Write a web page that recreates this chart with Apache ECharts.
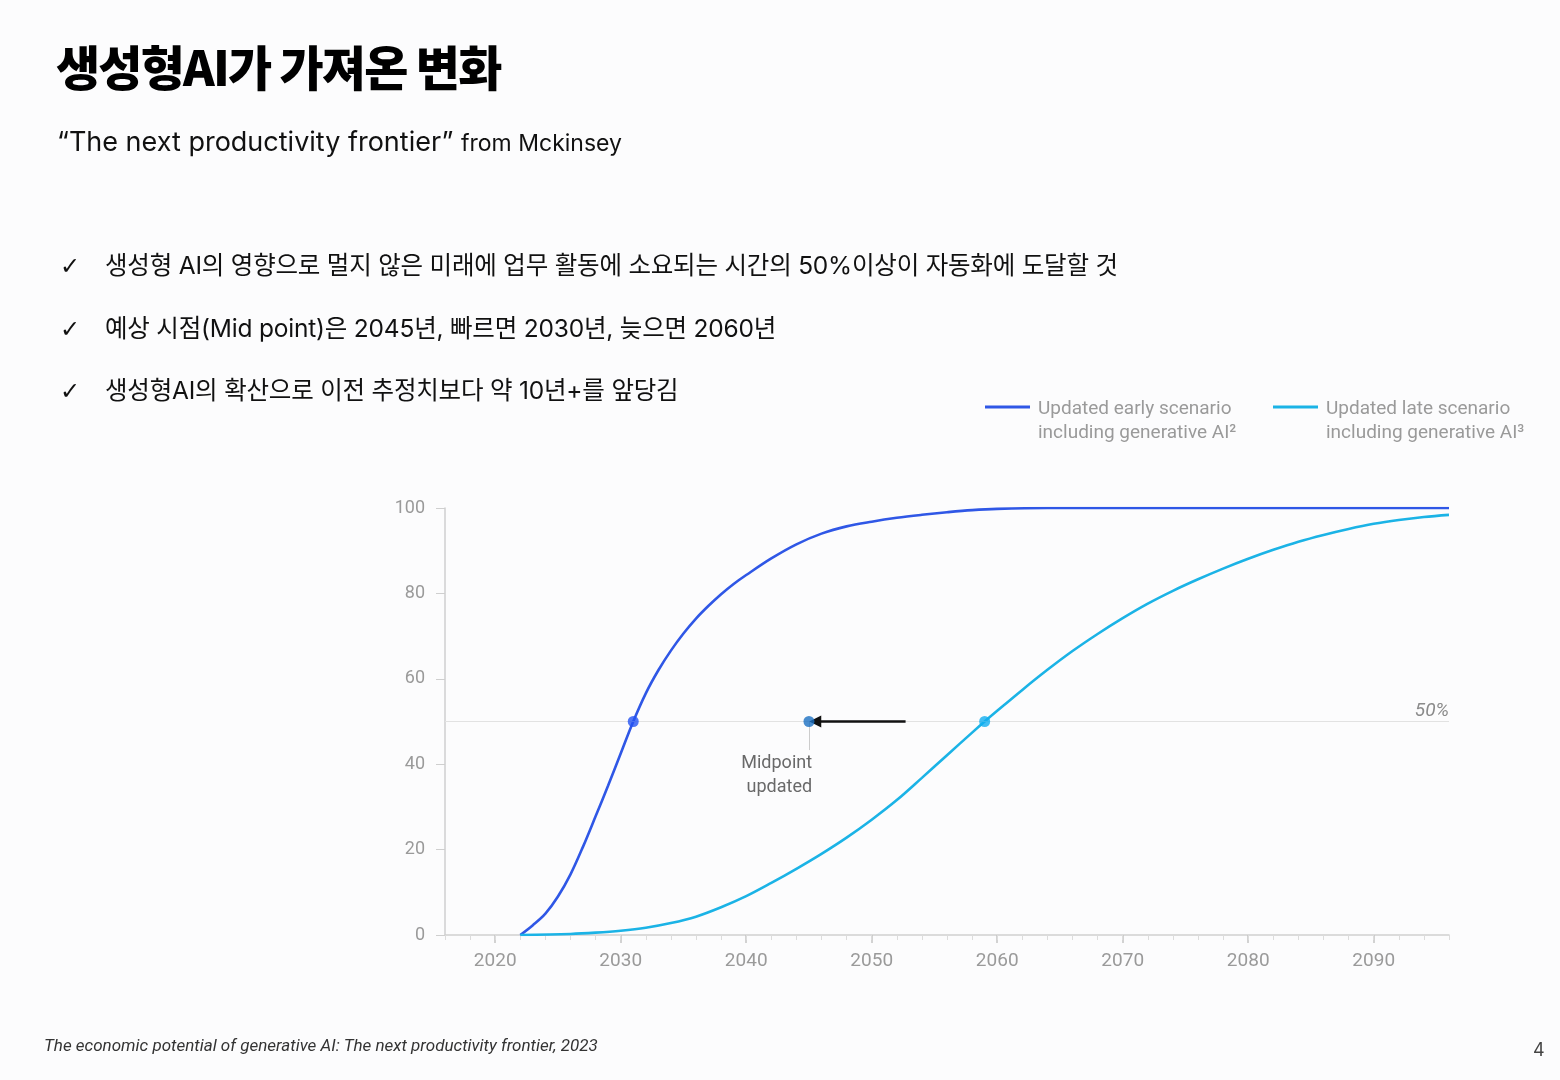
<!DOCTYPE html>
<html>
<head>
<meta charset="utf-8">
<script src="https://cdn.jsdelivr.net/npm/echarts@6/dist/echarts.min.js"></script>
<style>
  html, body { margin: 0; padding: 0; background: #fcfcfd; }
  #page { position: relative; width: 1560px; height: 1080px; overflow: hidden; }
  #chart { position: absolute; left: 0; top: 0; width: 1560px; height: 1080px; }
  .txt { position: absolute; white-space: nowrap; color: #111; font-family: "Inter", "Noto Sans CJK KR", sans-serif; }
  #title { left: 56px; top: 32px; font-family: "Noto Sans CJK KR", sans-serif; font-weight: 900; font-size: 48px; letter-spacing: -1.8px; color: #000; line-height: 66px; }
  #sub { left: 57px; top: 122px; font-size: 27px; line-height: 40px; }
  #sub small { font-size: 23px; }
  .bullet { left: 60px; font-size: 24.5px; line-height: 34px; letter-spacing: -0.2px; }
  .bullet span.ck { display: inline-block; width: 45px; font-family: "DejaVu Sans", sans-serif; font-size: 24px; }
  #foot { left: 44px; top: 1034px; font-family: "Roboto", sans-serif; font-size: 17px; font-style: italic; color: #333; line-height: 22px; }
  #pno { left: 1533px; top: 1039px; font-size: 18px; color: #444; line-height: 22px; }
</style>
</head>
<body>
<div id="page">
  <div id="chart"></div>
  <div class="txt" id="title">생성형AI가 가져온 변화</div>
  <div class="txt" id="sub">“The next productivity frontier” <small>from Mckinsey</small></div>
  <div class="txt bullet" style="top:248px"><span class="ck">✓</span>생성형 AI의 영향으로 멀지 않은 미래에 업무 활동에 소요되는 시간의 50%이상이 자동화에 도달할 것</div>
  <div class="txt bullet" style="top:311px"><span class="ck">✓</span>예상 시점(Mid point)은 2045년, 빠르면 2030년, 늦으면 2060년</div>
  <div class="txt bullet" style="top:373px"><span class="ck">✓</span>생성형AI의 확산으로 이전 추정치보다 약 10년+를 앞당김</div>
  <div class="txt" id="foot">The economic potential of generative AI: The next productivity frontier, 2023</div>
  <div class="txt" id="pno">4</div>
</div>
<script>
// early scenario (share of work time automated, %)
const earlyYears  = [2022, 2023, 2024, 2025, 2026, 2027, 2028, 2029, 2030, 2031, 2032, 2033, 2034, 2035, 2036, 2037, 2038, 2039, 2040, 2042, 2044, 2046, 2048, 2050, 2052, 2054, 2056, 2058, 2060, 2064, 2096];
const earlyValues = [0, 2.3, 5.0, 9.0, 14.2, 20.7, 27.8, 35.0, 42.5, 50, 56.6, 62.0, 66.6, 70.6, 74.1, 77.1, 79.8, 82.2, 84.3, 88.2, 91.5, 94.0, 95.7, 96.8, 97.7, 98.4, 99.0, 99.5, 99.8, 100, 100];

// late scenario
const lateYears  = [2022, 2026, 2028, 2030, 2032, 2034, 2036, 2038, 2040, 2042, 2044, 2046, 2048, 2050, 2052, 2054, 2056, 2058, 2059, 2060, 2062, 2064, 2066, 2068, 2070, 2072, 2074, 2076, 2078, 2080, 2082, 2084, 2086, 2088, 2090, 2092, 2094, 2096];
const lateValues = [0, 0.25, 0.55, 1.0, 1.7, 2.8, 4.3, 6.5, 9.1, 12.2, 15.5, 19.0, 22.8, 27.0, 31.6, 36.8, 42.1, 47.4, 50, 52.5, 57.4, 62.1, 66.5, 70.5, 74.2, 77.6, 80.6, 83.3, 85.8, 88.1, 90.2, 92.1, 93.7, 95.1, 96.3, 97.2, 97.9, 98.4];

// midpoints: early, updated, late
const midYears  = [2031, 2045, 2059];
const midColors = ['#2452f2', '#1a6fc2', '#12aef0'];
const midLevel  = 50;
const arrowFrom = 2052.7;
const arrowTo   = 2045.5;

const xLabels = [2020, 2030, 2040, 2050, 2060, 2070, 2080, 2090];
const yTicks  = [0, 20, 40, 60, 80, 100];

const legendNames = ['Updated early scenario\nincluding generative AI²', 'Updated late scenario\nincluding generative AI³'];
const lineColors  = ['#2f57e6', '#1bb3e6'];

const zip = (a, b) => a.map((v, i) => [v, b[i]]);

const chart = echarts.init(document.getElementById('chart'));
const grey = '#9a9a9a';
const axisFont = '"Roboto", "Liberation Sans", sans-serif';

chart.setOption({
  animation: false,
  backgroundColor: 'transparent',
  textStyle: { fontFamily: axisFont },
  grid: { left: 445, top: 508, width: 1004, height: 427, containLabel: false },
  xAxis: [
    {
      type: 'value', min: 2016, max: 2096, position: 'bottom',
      splitLine: { show: false },
      axisLine: { show: true, lineStyle: { color: '#cfcfcf', width: 1.5 } },
      axisTick: { show: true, length: 8, customValues: xLabels, lineStyle: { color: '#c4c4c4', width: 1.5 } },
      axisLabel: { customValues: xLabels, formatter: v => String(v), color: grey, fontSize: 19, margin: 17 }
    },
    {
      type: 'value', min: 2016, max: 2096, interval: 2, position: 'bottom',
      splitLine: { show: false },
      axisLine: { show: false },
      axisTick: { show: true, length: 5, lineStyle: { color: '#dcdcdc', width: 1 } },
      axisLabel: { show: false }
    }
  ],
  yAxis: {
    type: 'value', min: 0, max: 100, interval: 20,
    splitLine: { show: false },
    axisLine: { show: true, lineStyle: { color: '#cfcfcf', width: 1.5 } },
    axisTick: { show: true, length: 9, lineStyle: { color: '#cfcfcf', width: 1 } },
    axisLabel: { customValues: yTicks, color: grey, fontSize: 18, margin: 20 }
  },
  graphic: [
    { type: 'line', shape: { x1: 985, y1: 407, x2: 1030, y2: 407 }, style: { stroke: lineColors[0], lineWidth: 3 } },
    { type: 'text', left: 1038, top: 397, style: { text: legendNames[0], fill: grey, font: '19px ' + axisFont, lineHeight: 24 } },
    { type: 'line', shape: { x1: 1273, y1: 407, x2: 1318, y2: 407 }, style: { stroke: lineColors[1], lineWidth: 3 } },
    { type: 'text', left: 1326, top: 397, style: { text: legendNames[1], fill: grey, font: '19px ' + axisFont, lineHeight: 24 } }
  ],
  series: [
    {
      type: 'line', name: 'ref', data: [], silent: true,
      markLine: {
        silent: true, symbol: 'none',
        lineStyle: { color: '#e2e2e2', width: 1.2, type: 'solid' },
        label: { position: 'insideEndTop', formatter: '50%', color: '#8a8a8a', fontStyle: 'italic', fontSize: 19, distance: [0, 1] },
        data: [{ yAxis: midLevel }]
      }
    },
    {
      type: 'line', name: legendNames[0], data: zip(earlyYears, earlyValues),
      smooth: 0.35, showSymbol: false,
      lineStyle: { color: lineColors[0], width: 2.6 }, z: 3
    },
    {
      type: 'line', name: legendNames[1], data: zip(lateYears, lateValues),
      smooth: 0.35, showSymbol: false,
      lineStyle: { color: lineColors[1], width: 2.6 }, z: 3
    },
    {
      type: 'lines', coordinateSystem: 'cartesian2d', silent: true, z: 4,
      symbol: ['none', 'none'],
      lineStyle: { color: '#cccccc', width: 1, opacity: 1 },
      data: [{ coords: [[midYears[1], midLevel], [midYears[1], 43.3]] }]
    },
    {
      type: 'lines', coordinateSystem: 'cartesian2d', silent: true, z: 5,
      symbol: ['none', 'triangle'], symbolSize: 12,
      lineStyle: { color: '#111111', width: 2.5, opacity: 1 },
      data: [{ coords: [[arrowFrom, midLevel], [arrowTo, midLevel]] }]
    },
    {
      type: 'scatter', symbolSize: 11, z: 6,
      data: midYears.map((y, i) => ({ value: [y, midLevel], itemStyle: { color: midColors[i] } }))
    },
    {
      type: 'scatter', symbolSize: 0, silent: true, z: 6,
      data: [[midYears[1] + 0.25, 37.3]],
      label: {
        show: true, position: 'left', distance: 0, align: 'right',
        formatter: 'Midpoint\nupdated', color: '#444', fontSize: 18, lineHeight: 24,
        fontFamily: axisFont
      }
    }
  ]
});
</script>
</body>
</html>
